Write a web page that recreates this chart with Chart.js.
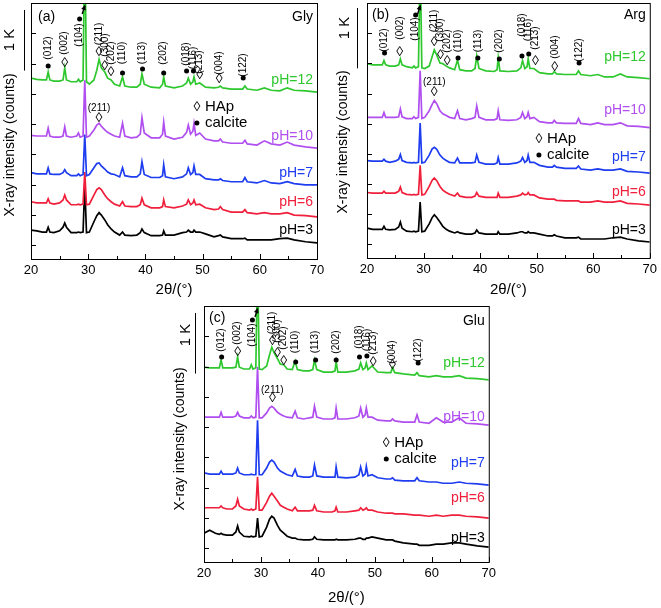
<!DOCTYPE html>
<html><head><meta charset="utf-8">
<script src="https://cdn.jsdelivr.net/npm/chart.js@4.4.1/dist/chart.umd.min.js"></script>
<style>
html,body{margin:0;padding:0;background:#fff;}
#wrap{position:relative;width:661px;height:608px;overflow:hidden;background:#fff;}
canvas{position:absolute;}
</style></head><body>
<div id="wrap">
<canvas id="ca" width="330" height="300" style="left:0;top:0"></canvas>
<canvas id="cb" width="331" height="300" style="left:330px;top:0"></canvas>
<canvas id="cc" width="340" height="308" style="left:160px;top:300px"></canvas>
</div>
<script>
// ---------- data ----------
const theta = [20,21,22,22.7,23.0,23.3,24,25,25.6,25.9,26.2,27,28,28.3,28.6,29.1,29.4,29.7,30.2,31,31.5,31.9,32.3,32.9,33.4,34.0,34.6,35.5,36.0,36.4,37.5,38.5,39.1,39.4,39.8,41,42.5,43.0,43.2,43.5,45,46.5,47.2,47.5,47.9,48.3,48.5,48.8,49.5,50.5,52,52.8,53.1,53.5,55,57.0,57.4,57.8,59.5,60.8,62,63.5,64.8,66,68,70];
const phLabels = ['pH=12','pH=10','pH=7','pH=6','pH=3'];
const colors = ['#2ec82e','#b04ef0','#1e3cf0','#f0203c','#000000'];
const yTickValues = [0,500,1000,1500,2000,2500,3000,3500];

// (a) Gly
const greenA  = [230,210,200,200,330,200,180,180,200,400,200,170,170,210,170,200,2600,170,130,200,360,540,400,330,230,200,130,100,250,100,80,80,130,300,130,80,70,130,250,100,70,100,150,230,130,170,250,130,150,80,70,80,100,70,50,50,100,50,30,70,30,20,70,30,20,0];
const purpleA = [210,200,200,200,330,200,180,180,200,350,200,180,200,250,180,200,1120,180,200,300,380,410,360,300,260,230,200,180,410,200,170,180,230,500,250,170,170,230,430,200,150,180,260,380,230,280,410,210,250,150,120,120,150,100,80,80,130,70,50,120,70,50,100,50,20,0];
const blueA   = [200,180,180,180,280,180,170,170,200,250,200,150,150,180,150,170,830,150,170,280,350,360,310,260,210,180,170,130,280,150,130,130,180,380,170,120,120,150,330,130,100,130,180,280,170,200,310,170,170,100,80,80,100,70,50,50,120,50,30,70,30,20,50,20,0,0];
const redA    = [250,230,230,230,300,230,210,230,280,360,280,200,200,210,200,210,740,200,210,360,450,480,450,360,300,250,210,180,250,180,170,170,200,310,200,150,150,170,280,170,150,180,210,280,200,230,280,200,210,150,120,130,170,120,80,80,120,70,50,70,50,50,70,30,20,0];
const blackA  = [210,200,180,180,260,180,170,200,260,330,260,170,170,180,170,180,970,170,180,350,450,500,460,380,300,230,180,130,180,130,120,130,170,230,170,120,120,130,200,130,130,170,180,210,180,180,210,180,180,150,100,120,130,100,70,70,80,50,50,50,50,70,80,50,20,0];
const offsetsA = [2530,1605,1000,470,40];

// (b) Arg
const greenB  = [250,230,230,230,300,230,210,210,230,330,230,200,180,210,180,200,2000,180,170,210,360,480,400,260,250,210,180,150,310,150,130,130,170,380,170,130,120,150,350,130,120,130,180,300,170,200,330,170,170,100,80,80,120,80,70,70,130,70,50,70,30,30,80,30,20,0];
const purpleB = [170,170,170,170,250,170,170,170,180,310,180,150,150,180,150,170,940,150,170,280,380,450,400,280,230,200,170,150,280,150,130,150,170,360,170,130,130,150,280,130,120,130,170,250,150,180,250,150,170,100,80,80,120,80,70,70,150,70,50,80,50,50,80,30,20,0];
const blueB   = [210,200,200,200,230,200,180,200,230,310,210,180,170,180,170,180,830,170,180,300,400,430,400,300,250,210,180,170,250,170,170,170,180,300,180,150,150,170,260,150,150,170,200,260,180,210,300,180,180,130,100,100,130,100,80,80,120,70,50,70,50,50,70,30,20,0];
const redB    = [210,200,200,200,230,200,200,200,230,300,210,180,170,180,170,180,660,170,180,310,410,450,410,310,250,210,180,150,200,150,130,130,150,210,150,130,130,130,200,130,130,150,170,200,170,180,210,170,170,120,100,100,100,80,70,70,70,50,50,70,50,50,70,30,20,0];
const blackB  = [230,210,210,210,260,210,200,210,250,330,230,180,170,180,170,180,660,170,180,300,400,450,410,330,260,210,180,150,170,150,130,130,150,200,150,130,130,130,170,130,130,150,170,170,150,150,170,150,150,130,100,100,120,100,70,70,80,50,50,50,50,70,80,50,20,0];
const offsetsB = [2745,1935,1180,650,40];

// (c) Glu
const greenC  = [210,200,200,200,330,200,200,200,210,380,210,180,180,250,180,200,2000,180,170,230,410,540,450,350,260,250,180,170,310,170,150,150,170,330,170,130,130,150,300,130,130,150,180,280,170,200,280,170,230,130,120,120,200,120,100,80,120,70,50,70,50,50,70,30,20,0];
const purpleC = [130,130,130,130,210,130,130,130,150,210,150,120,120,150,120,130,960,120,120,200,280,310,280,210,180,150,130,120,230,120,100,120,130,310,130,100,100,120,280,100,100,120,150,280,130,170,280,130,130,80,70,70,100,70,50,50,170,50,30,120,50,50,120,30,20,0];
const blueC   = [200,180,180,180,230,180,180,180,200,280,200,170,170,180,170,170,1070,170,170,280,380,410,380,280,230,200,170,150,260,150,130,130,150,330,150,130,130,130,300,130,120,130,170,300,150,180,310,150,170,120,100,100,120,80,70,70,120,70,50,50,30,30,50,30,20,0];
const redC    = [170,170,170,170,200,170,150,150,200,310,200,150,130,150,130,150,680,130,130,260,360,410,360,280,210,180,150,120,180,120,120,120,130,210,120,100,100,120,180,100,100,120,130,170,130,150,170,130,130,100,80,80,80,70,70,50,50,50,30,50,30,50,50,30,20,0];
const blackC  = [230,280,230,210,230,210,200,200,250,350,250,180,170,180,170,180,480,170,180,330,460,510,480,360,280,230,180,150,150,130,120,120,130,170,130,120,120,120,130,120,120,130,150,150,130,130,150,150,170,150,120,120,120,100,70,50,50,30,30,50,50,70,70,50,20,0];
const offsetsC = [2780,2035,1045,500,20];

// peak annotations
const peakNames  = ['(012)','(002)','(104)','(211)','(300)','(202)','(110)','(113)','(202)','(018)','(116)','(213)','(004)','(122)'];
const peakPhase  = ['c','h','c','h','h','h','c','c','c','c','c','h','h','c'];
const peakThetaA = [23.0,25.9,28.5,31.9,32.9,34.0,36.0,39.5,43.2,47.2,48.4,49.5,52.9,57.1];
const peakThetaB = [23.1,25.8,28.6,31.9,33.0,34.2,36.1,39.6,43.4,47.4,48.6,49.8,53.2,57.5];
const peakThetaC = [23.1,25.9,28.5,32.0,32.9,34.0,36.1,39.6,43.2,47.3,48.6,49.7,53.1,57.6];

// ---------- layout ----------
const FONT = "'Liberation Sans', Arial, sans-serif";
const panels = [
  {id:'ca', key:'a', w:330, h:300, area:{left:31, top:3, right:317, bottom:259},
   series:[greenA,purpleA,blueA,redA,blackA], offsets:offsetsA, peakTheta:peakThetaA,
   labelY:[45,40,32,31,42,50,50,50,50,51,55,59,60,62], markY:[63,60,16,49,63,69,70,66,70,68,68,72,76,75],
   tag:'(a)', name:'Gly', tagDx:7, tagDy:14, nameDy:14,
   phY:[77,133,170,199,227], h211:{t:31.9, y:105, d:115}, leg:{t:49.0, y1:104, y2:120},
   bar:{dx:-7, y0:7, tdx:-21, tdy:37}, yt:{dx:-21, dy:142}},
  {id:'cb', key:'b', w:331, h:300, area:{left:37, top:3, right:323, bottom:258},
   series:[greenB,purpleB,blueB,redB,blackB], offsets:offsetsB, peakTheta:peakThetaB,
   labelY:[37,25,26,18,27,38,38,38,38,22,27,35,44,47], markY:[50,49,12,39,52,58,55,55,56,53,51,58,64,60],
   tag:'(b)', name:'Arg', tagDx:5, tagDy:12, nameDy:12,
   phY:[54,107,154,189,227], h211:{t:31.9, y:79, d:89}, leg:{t:50.4, y1:136, y2:152},
   bar:{dx:-10, y0:5, tdx:-22, tdy:25}, yt:{dx:-24, dy:139}},
  {id:'cc', key:'c', w:340, h:308, area:{left:44, top:6, right:330, bottom:262},
   series:[greenC,purpleC,blueC,redC,blackC], offsets:offsetsC, peakTheta:peakThetaC,
   labelY:[34,27,29,17,25,32,36,36,36,31,34,37,46,44], markY:[51,46,14,35,47,55,56,54,54,51,50,56,59,57],
   tag:'(c)', name:'Glu', tagDx:5, tagDy:12, nameDy:15,
   phY:[57,111,157,192,232], h211:{t:32.0, y:84, d:92}, leg:{t:52.0, y1:137, y2:153},
   bar:{dx:-9, y0:7, tdx:-18, tdy:29}, yt:{dx:-24, dy:133}}
];

function rotText(ctx, s, px, py, font) {
  ctx.save(); ctx.translate(px, py); ctx.rotate(-Math.PI/2);
  ctx.font = font; ctx.textAlign = 'center'; ctx.textBaseline = 'middle';
  ctx.fillText(s, 0, 0); ctx.restore();
}
function dot(ctx, px, py, r) { ctx.beginPath(); ctx.arc(px, py, r, 0, Math.PI*2); ctx.fill(); }
function diamond(ctx, px, py) {
  ctx.font = '14px ' + FONT; ctx.textAlign = 'center'; ctx.textBaseline = 'middle';
  ctx.fillText('\u25CA', px, py);
}

function annotPlugin(p) {
  return {
    id: 'annot' + p.key,
    afterDatasetsDraw(chart) {
      const ctx = chart.ctx, a = chart.chartArea, x = chart.scales.x, y = chart.scales.y;
      ctx.save();
      ctx.strokeStyle = '#000'; ctx.fillStyle = '#000'; ctx.lineWidth = 1;
      ctx.strokeRect(a.left + 0.5, a.top + 0.5, a.right - a.left, a.bottom - a.top);
      ctx.beginPath();
      for (let t = 20; t <= 70; t += 5) {
        const px = Math.round(x.getPixelForValue(t)) + 0.5;
        const len = (t % 10 === 0) ? 5 : 3;
        ctx.moveTo(px, a.bottom); ctx.lineTo(px, a.bottom - len);
      }
      yTickValues.forEach(v => {
        const py = Math.round(y.getPixelForValue(v)) + 0.5;
        ctx.moveTo(a.left, py); ctx.lineTo(a.left + 5, py);
      });
      ctx.stroke();
      // y title
      rotText(ctx, 'X-ray intensity (counts)', a.left + p.yt.dx, a.top + p.yt.dy, '14px ' + FONT);
      // 1 K scale bar
      const bx = a.left + p.bar.dx + 0.5, by0 = a.top + p.bar.y0;
      const blen = y.getPixelForValue(0) - y.getPixelForValue(1000);
      ctx.beginPath(); ctx.moveTo(bx, by0); ctx.lineTo(bx, by0 + blen); ctx.stroke();
      rotText(ctx, '1 K', a.left + p.bar.tdx, a.top + p.bar.tdy, '15px ' + FONT);
      // tag & name
      ctx.font = '14px ' + FONT; ctx.textBaseline = 'middle';
      ctx.textAlign = 'left'; ctx.fillText(p.tag, a.left + p.tagDx, a.top + p.tagDy);
      ctx.textAlign = 'right'; ctx.fillText(p.name, a.right - 4, a.top + p.nameDy);
      // peak labels
      peakNames.forEach((s, i) => {
        const px = x.getPixelForValue(p.peakTheta[i]);
        ctx.fillStyle = '#000';
        rotText(ctx, s, px, a.top + p.labelY[i], '10px ' + FONT);
        if (peakPhase[i] === 'c') dot(ctx, px, a.top + p.markY[i], 2.5);
        else diamond(ctx, px, a.top + p.markY[i]);
      });
      // off-scale arrow on the (104) peak
      const ax1 = x.getPixelForValue(28.95), ay1 = a.top + 11;
      const ax2 = x.getPixelForValue(29.4), ay2 = a.top + 3;
      ctx.lineWidth = 1.4; ctx.beginPath(); ctx.moveTo(ax1, ay1); ctx.lineTo(ax2, ay2); ctx.stroke();
      const ang = Math.atan2(ay2 - ay1, ax2 - ax1);
      ctx.beginPath(); ctx.moveTo(ax2 + Math.cos(ang)*1.5, ay2 + Math.sin(ang)*1.5);
      ctx.lineTo(ax2 - Math.cos(ang)*4 + Math.sin(ang)*2.4, ay2 - Math.sin(ang)*4 - Math.cos(ang)*2.4);
      ctx.lineTo(ax2 - Math.cos(ang)*4 - Math.sin(ang)*2.4, ay2 - Math.sin(ang)*4 + Math.cos(ang)*2.4);
      ctx.closePath(); ctx.fill();
      ctx.lineWidth = 1;
      // (211) on pH=10
      const hx = x.getPixelForValue(p.h211.t);
      ctx.font = '10px ' + FONT; ctx.textAlign = 'center'; ctx.textBaseline = 'middle';
      ctx.fillText('(211)', hx, a.top + p.h211.y);
      diamond(ctx, hx, a.top + p.h211.d);
      // legend
      const lx = x.getPixelForValue(p.leg.t);
      diamond(ctx, lx, a.top + p.leg.y1);
      ctx.font = '15px ' + FONT; ctx.textAlign = 'left'; ctx.textBaseline = 'middle';
      ctx.fillText('HAp', lx + 8, a.top + p.leg.y1);
      dot(ctx, lx, a.top + p.leg.y2, 2.5);
      ctx.fillText('calcite', lx + 8, a.top + p.leg.y2);
      // pH labels
      ctx.font = '14px ' + FONT; ctx.textAlign = 'right';
      phLabels.forEach((s, i) => { ctx.fillStyle = colors[i]; ctx.fillText(s, a.right - 4, a.top + p.phY[i]); });
      ctx.restore();
    }
  };
}

function makePanel(p) {
  p.series.forEach((s, i) => { if (s.length !== theta.length) throw new Error('length mismatch ' + p.key + i + ': ' + s.length); });
  const datasets = p.series.map((vals, i) => ({
    label: phLabels[i],
    data: theta.map((t, k) => ({x: t, y: p.offsets[i] + vals[k]})),
    borderColor: colors[i], borderWidth: 1.7, pointRadius: 0, tension: 0, fill: false
  }));
  new Chart(document.getElementById(p.id), {
    type: 'line',
    data: {datasets},
    options: {
      responsive: false, animation: false, devicePixelRatio: 1,
      layout: {padding: {left: p.area.left, top: p.area.top, right: p.w - p.area.right, bottom: 0}},
      plugins: {legend: {display: false}, tooltip: {enabled: false}},
      scales: {
        x: {type: 'linear', min: 20, max: 70,
            ticks: {stepSize: 10, color: '#000', padding: 4, maxRotation: 0, font: {family: FONT, size: 13}},
            grid: {display: false, drawTicks: false}, border: {display: false},
            title: {display: true, text: '2θ/(°)', color: '#000', font: {family: FONT, size: 15}, padding: {top: 0, bottom: 1}},
            afterFit: s => { s.height = p.h - p.area.bottom; }},
        y: {type: 'linear', min: -225, max: 4000,
            ticks: {display: false, stepSize: 500},
            grid: {display: false, drawTicks: false}, border: {display: false},
            afterFit: s => { s.width = 0; }}
      }
    },
    plugins: [annotPlugin(p)]
  });
}
panels.forEach(makePanel);
</script>
</body></html>
